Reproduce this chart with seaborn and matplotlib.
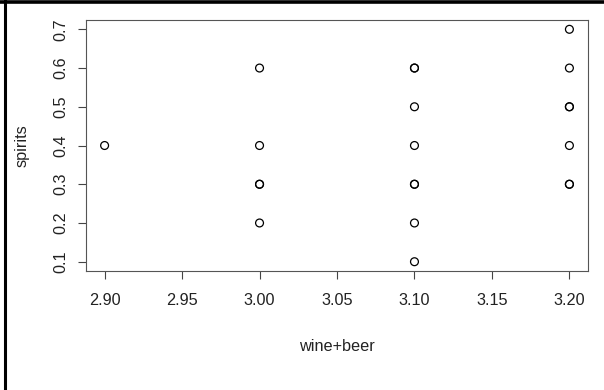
import numpy as np
import pandas as pd
import matplotlib
matplotlib.use('Agg')
import matplotlib.pyplot as plt
import seaborn as sns
from matplotlib.lines import Line2D

sns.set_style('white')
plt.rcParams['font.family'] = ['Liberation Sans', 'DejaVu Sans']

# wine+beer / spirits pairs (repeated pairs overplot, as in the original)
wine_beer = [2.9,
             3.0, 3.0, 3.0, 3.0, 3.0,
             3.1, 3.1, 3.1, 3.1, 3.1, 3.1, 3.1, 3.1,
             3.2, 3.2, 3.2, 3.2, 3.2, 3.2, 3.2]
spirits = [0.4,
           0.6, 0.4, 0.3, 0.3, 0.2,
           0.6, 0.6, 0.5, 0.4, 0.3, 0.3, 0.2, 0.1,
           0.7, 0.6, 0.5, 0.5, 0.4, 0.3, 0.3]
x_ticks = [2.90, 2.95, 3.00, 3.05, 3.10, 3.15, 3.20]
y_ticks = [0.1, 0.2, 0.3, 0.4, 0.5, 0.6, 0.7]

df = pd.DataFrame({'wine+beer': wine_beer, 'spirits': spirits})

fig = plt.figure(figsize=(6.04, 3.90), dpi=100)
ax = fig.add_axes([0.1424, 0.3051, 0.8311, 0.6436])

sns.scatterplot(x='wine+beer', y='spirits', data=df, ax=ax, marker='o', s=32,
                fc='none', ec='black', linewidth=0.9, legend=False)

# R-style 4% padding
xr = max(wine_beer) - min(wine_beer)
yr = max(spirits) - min(spirits)
ax.set_xlim(min(wine_beer) - 0.04 * xr, max(wine_beer) + 0.04 * xr)
ax.set_ylim(min(spirits) - 0.04 * yr, max(spirits) + 0.04 * yr)

ax.set_xticks(x_ticks)
ax.set_xticklabels(['%.2f' % v for v in x_ticks])
ax.set_yticks(y_ticks)
ax.set_yticklabels(['%.1f' % v for v in y_ticks], rotation=90, va='center')
ax.tick_params(direction='out', length=6, width=0.8, color='#444', labelsize=11.7,
               pad=8, labelcolor='#222', bottom=True, left=True)
ax.tick_params(axis='x', pad=10)
ax.tick_params(axis='y', pad=7)
for sp in ax.spines.values():
    sp.set_color('#555')
    sp.set_linewidth(0.8)

ax.set_xlabel('wine+beer', fontsize=11.7, color='#222', labelpad=22)
ax.set_ylabel('spirits', fontsize=11.7, color='#222', labelpad=17)

# frame of the screenshot (left and top edges only)
fig.add_artist(Line2D([0.008, 0.008], [0, 1], transform=fig.transFigure, color='black', lw=2.2))
fig.add_artist(Line2D([0, 1], [0.996, 0.996], transform=fig.transFigure, color='black', lw=2.6))

fig.savefig('out.png', dpi=100)
